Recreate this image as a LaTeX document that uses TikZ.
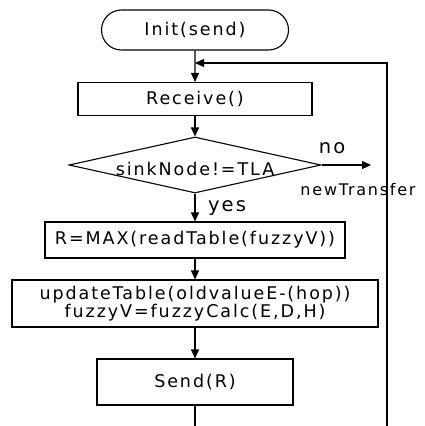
\documentclass[tikz,border=0pt]{standalone}
\usepackage{fontspec}
\setmainfont{DejaVu Sans}[LetterSpace=11]
\usetikzlibrary{shapes.geometric,shapes.misc,arrows.meta}
\begin{document}
\begin{tikzpicture}[
		x=1pt,y=-1pt,
		line width=1.1pt,
		font=\fontsize{17.5}{21}\selectfont,
		box/.style={rectangle,draw,inner sep=0pt},
		term/.style={rounded rectangle,draw,inner sep=0pt},
		cond/.style={diamond,draw,inner sep=0pt,aspect=4.5},
		arr/.style={-{Triangle[length=9pt,width=8pt]}}
	]
	\useasboundingbox (0,0) rectangle (424,426);
	\node[term,minimum width=187pt,minimum height=40pt] (init) at (195,30) {Init(send)};
	\node[box,minimum width=234pt,minimum height=33pt] (recv) at (195,99) {Receive()};
	\node[cond,minimum width=252pt,minimum height=56pt] (sink) at (195,165) {};
	\node (sinktxt) at (195,169) {sinkNode!=TLA};
	\node[box,minimum width=300pt,minimum height=36pt] (rmax) at (195,240) {R=MAX(readTable(fuzzyV))};
	\node[box,minimum width=366pt,minimum height=47pt,align=center] (upd) at (195,303.5)
		{updateTable(oldvalueE-(hop))\\[-3pt]fuzzyV=fuzzyCalc(E,D,H)};
	\node[box,minimum width=196pt,minimum height=46pt] (send) at (195,382) {Send(R)};
	% labels
	\node[font=\fontsize{19.5}{21}\selectfont] (no) at (332,148) {no};
	\node[font=\fontsize{16}{17}\selectfont] (newt) at (358,190) {newTransfer};
	\node[font=\fontsize{19.5}{21}\selectfont] (yes) at (227,208) {yes};
	\coordinate (merge) at (195,63);
	\coordinate (noend) at (371,165);
	\coordinate (bot) at (195,426);
	\coordinate (rbot) at (387,426);
	\coordinate (rtop) at (387,63);
	% connectors
	\draw[arr] (init) -- (recv);
	\draw[arr] (rbot) -- (rtop) -- (merge);
	\draw[arr] (recv) -- (sink);
	\draw[arr] (sink.east) -- (noend);
	\draw[arr] (sink) -- (rmax);
	\draw[arr] (rmax) -- (upd);
	\draw[arr] (upd) -- (send);
	\draw (send) -- (bot);
\end{tikzpicture}
\end{document}
